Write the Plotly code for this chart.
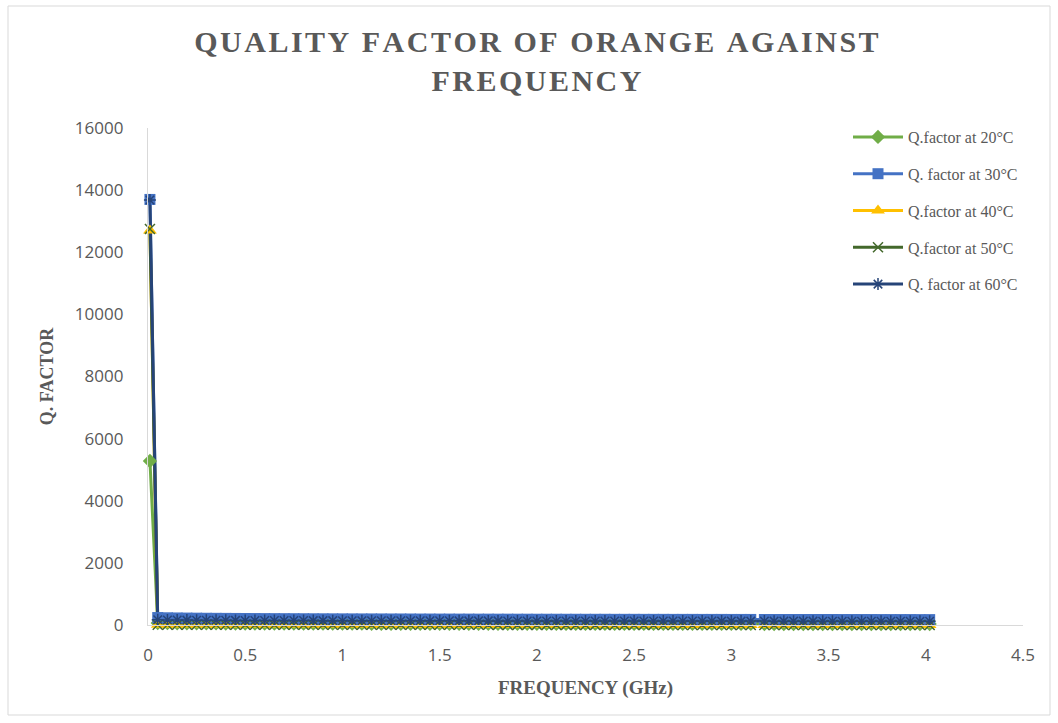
import plotly.graph_objects as go

# Frequency sweep (GHz)
freq = [0.01, 0.05, 0.10, 0.15, 0.20, 0.25, 0.30, 0.35, 0.40, 0.45, 0.50,
        0.55, 0.60, 0.65, 0.70, 0.75, 0.80, 0.85, 0.90, 0.95, 1.00,
        1.05, 1.10, 1.15, 1.20, 1.25, 1.30, 1.35, 1.40, 1.45, 1.50,
        1.55, 1.60, 1.65, 1.70, 1.75, 1.80, 1.85, 1.90, 1.95, 2.00,
        2.05, 2.10, 2.15, 2.20, 2.25, 2.30, 2.35, 2.40, 2.45, 2.50,
        2.55, 2.60, 2.65, 2.70, 2.75, 2.80, 2.85, 2.90, 2.95, 3.00,
        3.05, 3.10, 3.17, 3.22, 3.27, 3.32, 3.37, 3.42, 3.47, 3.52,
        3.57, 3.62, 3.67, 3.72, 3.77, 3.82, 3.87, 3.92, 3.97, 4.02]

# Q factor at each temperature
q20 = [5280, 62, 58, 55, 54, 52, 51, 50, 49, 48, 47,
       47, 46, 46, 45, 45, 44, 44, 43, 43, 42,
       42, 42, 41, 41, 41, 40, 40, 40, 39, 39,
       39, 39, 38, 38, 38, 38, 37, 37, 37, 37,
       36, 36, 36, 36, 36, 35, 35, 35, 35, 35,
       34, 34, 34, 34, 34, 34, 33, 33, 33, 33,
       33, 33, 32, 32, 32, 32, 32, 32, 31, 31,
       31, 31, 31, 31, 31, 30, 30, 30, 30, 30]
q30 = [13700, 240, 232, 227, 223, 220, 217, 215, 213, 211, 209,
       208, 206, 205, 204, 203, 202, 201, 200, 199, 198,
       197, 196, 196, 195, 194, 194, 193, 192, 192, 191,
       191, 190, 190, 189, 189, 188, 188, 187, 187, 186,
       186, 186, 185, 185, 184, 184, 184, 183, 183, 183,
       182, 182, 182, 181, 181, 181, 180, 180, 180, 179,
       179, 179, 178, 178, 178, 178, 177, 177, 177, 177,
       176, 176, 176, 176, 175, 175, 175, 175, 174, 174]
q40 = [12700, 9, 8, 8, 7, 7, 7, 7, 6, 6, 6,
       6, 6, 6, 6, 5, 5, 5, 5, 5, 5,
       5, 5, 5, 5, 5, 5, 5, 4, 4, 4,
       4, 4, 4, 4, 4, 4, 4, 4, 4, 4,
       4, 4, 4, 4, 4, 3, 3, 3, 3, 3,
       3, 3, 3, 3, 3, 3, 3, 3, 3, 3,
       3, 3, 3, 3, 3, 3, 3, 3, 3, 3,
       2, 2, 2, 2, 2, 2, 2, 2, 2, 2]
q50 = [12750, 10, 9, 9, 8, 8, 8, 7, 7, 7, 7,
       7, 7, 6, 6, 6, 6, 6, 6, 6, 6,
       6, 5, 5, 5, 5, 5, 5, 5, 5, 5,
       5, 5, 5, 5, 5, 4, 4, 4, 4, 4,
       4, 4, 4, 4, 4, 4, 4, 4, 4, 4,
       4, 4, 3, 3, 3, 3, 3, 3, 3, 3,
       3, 3, 3, 3, 3, 3, 3, 3, 3, 3,
       3, 3, 3, 3, 3, 3, 2, 2, 2, 2]
q60 = [13680, 170, 164, 160, 157, 155, 153, 151, 150, 148, 147,
       146, 145, 144, 143, 142, 142, 141, 140, 140, 139,
       138, 138, 137, 137, 136, 136, 135, 135, 134, 134,
       134, 133, 133, 132, 132, 132, 131, 131, 131, 130,
       130, 130, 129, 129, 129, 129, 128, 128, 128, 128,
       127, 127, 127, 127, 126, 126, 126, 126, 125, 125,
       125, 125, 125, 124, 124, 124, 124, 124, 123, 123,
       123, 123, 123, 122, 122, 122, 122, 122, 122, 121]

names = ["Q.factor at 20°C", "Q. factor at 30°C", "Q.factor at 40°C",
         "Q.factor at 50°C", "Q. factor at 60°C"]
series = [q20, q30, q40, q50, q60]
colors = ["#70AD47", "#4472C4", "#FFC000", "#43682B", "#264478"]
symbols = ["diamond", "square", "triangle-up", "x-thin-open", "asterisk-open"]
msizes = [11, 11, 12, 10, 10]


def marker_style(i):
    open_sym = symbols[i].endswith("open")
    return dict(symbol=symbols[i], size=msizes[i], color=colors[i],
                line=dict(color=colors[i], width=1.5 if open_sym else 0))


fig = go.Figure()

# Connecting lines for every series go underneath all markers
for i, ys in enumerate(series):
    fig.add_trace(go.Scatter(
        x=freq, y=ys, mode="lines", showlegend=False, hoverinfo="skip",
        cliponaxis=False, line=dict(color=colors[i], width=3),
    ))

# Markers on top of all lines
for i, ys in enumerate(series):
    fig.add_trace(go.Scatter(
        x=freq, y=ys, mode="markers", name=names[i], showlegend=False,
        cliponaxis=False, marker=marker_style(i),
    ))

# Legend keys (line + marker)
for i, name in enumerate(names):
    fig.add_trace(go.Scatter(
        x=[None], y=[None], mode="lines+markers", name=name,
        legendgroup=f"g{i}", line=dict(color=colors[i], width=3),
        marker=marker_style(i),
    ))

HS = "\u200a"
title_lines = ["QUALITY FACTOR OF ORANGE AGAINST", "FREQUENCY"]
title_text = "<br>".join(f"<b>{HS.join(list(t))}</b>" for t in title_lines)

W, H = 1058, 723
L, R, T, B = 148, 35, 128, 98
pw, ph = W - L - R, H - T - B

def px_x(p):
    return (p - L) / pw

def px_y(p):
    return (H - B - p) / ph

fig.update_layout(
    width=W, height=H,
    margin=dict(l=L, r=R, t=T, b=B),
    paper_bgcolor="white", plot_bgcolor="white",
    title=dict(text=title_text, x=0.507, xanchor="center", y=0.928, yanchor="top",
               xref="container", yref="container",
               font=dict(family="Liberation Serif", size=30, color="#595959")),
    font=dict(family="Liberation Serif", color="#595959"),
    showlegend=True,
    legend=dict(x=px_x(848), y=px_y(120), xanchor="left", yanchor="top",
                font=dict(family="Liberation Serif", size=16, color="#595959"),
                tracegroupgap=13, itemwidth=50, bgcolor="rgba(0,0,0,0)"),
    xaxis=dict(range=[0, 4.5], dtick=0.5, tick0=0, showgrid=False, zeroline=False,
               showline=True, linecolor="#D9D9D9", linewidth=1.3, ticks="",
               ticklabelstandoff=14,
               tickfont=dict(family="Open Sans", size=17, color="#595959"),
               title=dict(text="<b>FREQUENCY (GHz)</b>", standoff=16,
                          font=dict(family="Liberation Serif", size=19, color="#595959"))),
    yaxis=dict(range=[0, 16000], dtick=2000, tickformat="d", showgrid=False, zeroline=False,
               showline=True, linecolor="#D9D9D9", linewidth=1.3, ticks="",
               ticklabelstandoff=20,
               tickfont=dict(family="Open Sans", size=17, color="#595959"),
               title=dict(text="<b>Q. FACTOR</b>", standoff=16,
                          font=dict(family="Liberation Serif", size=18, color="#595959"))),
    shapes=[dict(type="rect", xref="paper", yref="paper",
                 x0=px_x(8), x1=px_x(1050), y0=px_y(715), y1=px_y(6),
                 line=dict(color="#D9D9D9", width=1), fillcolor="rgba(0,0,0,0)",
                 layer="below")],
)

fig.write_html("out.html")
